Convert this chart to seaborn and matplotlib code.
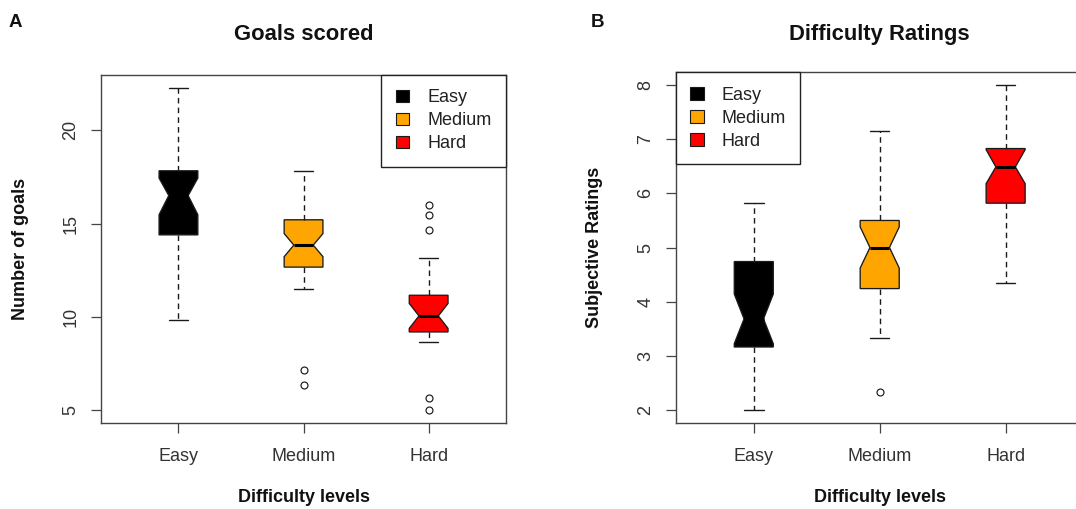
import matplotlib
matplotlib.use("Agg")
import matplotlib.pyplot as plt
from matplotlib.patches import Patch
import seaborn as sns

# ---------------- data ----------------
levels = ["Easy", "Medium", "Hard"]
level_colors = ["#000000", "#FFA500", "#FF0000"]

# Panel A: Goals scored (box-plot summary statistics)
goals_whislo = [9.81, 11.47, 8.66]
goals_q1 = [14.39, 12.66, 9.18]
goals_med = [16.50, 13.84, 10.04]
goals_q3 = [17.83, 15.20, 11.15]
goals_whishi = [22.28, 17.83, 13.16]
goals_cilo = [15.47, 13.22, 9.37]
goals_cihi = [17.44, 14.46, 10.71]
goals_fliers = [[], [7.12, 6.31], [16.02, 15.47, 14.65, 5.63, 5.00]]
goals_yticks = [5, 10, 15, 20]

# Panel B: Difficulty ratings
ratings_whislo = [2.00, 3.32, 4.34]
ratings_q1 = [3.16, 4.24, 5.82]
ratings_med = [3.68, 5.00, 6.49]
ratings_q3 = [4.74, 5.50, 6.83]
ratings_whishi = [5.82, 7.16, 8.00]
ratings_cilo = [3.22, 4.62, 6.18]
ratings_cihi = [4.14, 5.38, 6.81]
ratings_fliers = [[], [2.33], []]
ratings_yticks = [2, 3, 4, 5, 6, 7, 8]

# ---------------- style ----------------
sns.set_theme(style="white")
plt.rcParams["font.family"] = ["Liberation Sans", "DejaVu Sans"]
plt.rcParams["axes.edgecolor"] = "#444444"
plt.rcParams["axes.linewidth"] = 1.0

W, H = 1076, 509
fig = plt.figure(figsize=(W / 100, H / 100), dpi=100)
fig.patch.set_facecolor("white")

axA = fig.add_axes([100.9 / W, 1 - 422.7 / H, (506.2 - 100.9) / W, (422.7 - 75.0) / H])
axB = fig.add_axes([675.7 / W, 1 - 422.7 / H, (1083.7 - 675.7) / W, (422.7 - 72.3) / H])

EDGE = "#1a1a1a"


def make_stats(whislo, q1, med, q3, whishi, cilo, cihi, fliers):
    stats = []
    for i in range(len(levels)):
        stats.append(dict(whislo=whislo[i], q1=q1[i], med=med[i], q3=q3[i],
                          whishi=whishi[i], cilo=cilo[i], cihi=cihi[i],
                          fliers=fliers[i], label=levels[i]))
    return stats


def draw_panel(ax, stats, yticks, title, ylabel, title_pad, legend_loc, legend_anchor):
    positions = list(range(1, len(levels) + 1))
    bp = ax.bxp(stats, positions=positions, widths=0.31, patch_artist=True,
                shownotches=True, manage_ticks=False,
                boxprops=dict(edgecolor=EDGE, linewidth=0.95),
                whiskerprops=dict(color=EDGE, linewidth=1.0, linestyle=(0, (4, 3))),
                capprops=dict(color=EDGE, linewidth=1.0),
                medianprops=dict(color="black", linewidth=2.2, solid_capstyle="butt"),
                flierprops=dict(marker="o", markerfacecolor="none",
                                markeredgecolor=EDGE, markersize=5,
                                markeredgewidth=0.85, linestyle="none"))
    for patch, c in zip(bp["boxes"], level_colors):
        patch.set_facecolor(c)

    # R-style limits: 4% padding around data range
    vals = [s["whislo"] for s in stats] + [s["whishi"] for s in stats]
    for s in stats:
        vals += list(s["fliers"])
    lo, hi = min(vals), max(vals)
    pad = 0.04 * (hi - lo)
    ax.set_ylim(lo - pad, hi + pad)
    ax.set_xlim(0.5 - 0.04 * 3, len(levels) + 0.5 + 0.04 * 3)

    ax.set_xticks(positions)
    ax.set_xticklabels(levels)
    ax.set_yticks(yticks)
    ax.set_yticklabels([str(t) for t in yticks], rotation=90, va="center")
    ax.tick_params(axis="both", direction="out", length=7.5, width=0.9,
                   color="#444444", labelsize=13, labelcolor="#333333",
                   bottom=True, left=True)
    ax.tick_params(axis="x", pad=11)
    ax.tick_params(axis="y", pad=8)
    for sp in ax.spines.values():
        sp.set_visible(True)
        sp.set_color("#444444")
        sp.set_linewidth(1.0)

    ax.set_title(title, fontsize=15.8, fontweight="bold", color="#111111", pad=title_pad)
    ax.set_xlabel("Difficulty levels", fontsize=13, fontweight="bold", color="#111111")
    ax.set_ylabel(ylabel, fontsize=13, fontweight="bold", color="#111111")

    handles = [Patch(facecolor=c, edgecolor=EDGE, linewidth=0.8, label=l)
               for l, c in zip(levels, level_colors)]
    leg = ax.legend(handles=handles, loc=legend_loc, bbox_to_anchor=legend_anchor,
                    borderaxespad=0, frameon=True, fancybox=False, framealpha=1,
                    edgecolor="#222222", fontsize=13, handlelength=0.75,
                    handleheight=0.7, handletextpad=1.0, borderpad=0.8,
                    labelspacing=0.33)
    leg.get_frame().set_linewidth(1.0)
    for t in leg.get_texts():
        t.set_color("#222222")
    return ax


draw_panel(axA,
           make_stats(goals_whislo, goals_q1, goals_med, goals_q3, goals_whishi,
                      goals_cilo, goals_cihi, goals_fliers),
           goals_yticks, "Goals scored", "Number of goals", 25.2,
           "upper right", (1, 1))
draw_panel(axB,
           make_stats(ratings_whislo, ratings_q1, ratings_med, ratings_q3, ratings_whishi,
                      ratings_cilo, ratings_cihi, ratings_fliers),
           ratings_yticks, "Difficulty Ratings", "Subjective Ratings", 23.3,
           "upper left", (0, 1))

# axis label placement (R-like margins)
for ax, left_px, width_px, top_px, ylab_px in [(axA, 100.9, 405.3, 75.0, 20.0),
                                                (axB, 675.7, 408.0, 72.3, 594.7)]:
    h_px = 422.7 - top_px
    ax.yaxis.set_label_coords((ylab_px - left_px) / width_px, 0.5)
    ax.yaxis.label.set_va("center")
    ax.xaxis.set_label_coords(0.5, -(501.5 - 422.7) / h_px)
    ax.xaxis.label.set_va("baseline")

fig.text(15.3 / W, 1 - 27.0 / H, "A", fontsize=13.5, fontweight="bold",
         ha="center", va="baseline", color="#111111")
fig.text(597.2 / W, 1 - 27.0 / H, "B", fontsize=13.5, fontweight="bold",
         ha="center", va="baseline", color="#111111")

fig.savefig("out.png", dpi=100)
